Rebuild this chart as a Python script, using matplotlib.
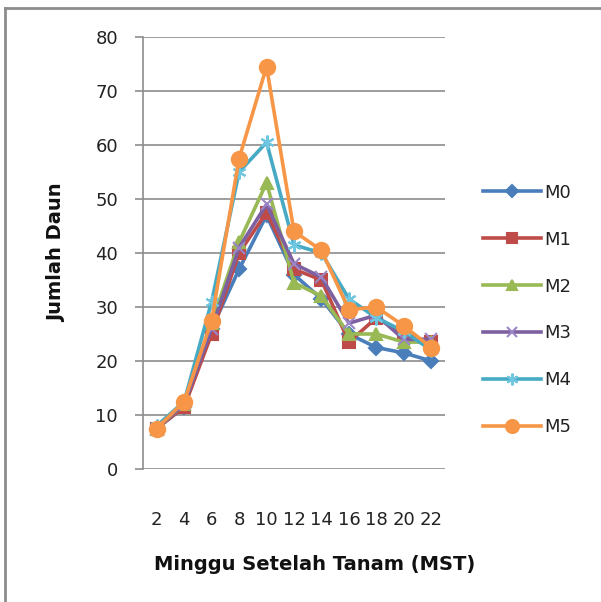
import matplotlib
matplotlib.use("Agg")
import matplotlib.pyplot as plt
from matplotlib.lines import Line2D

plt.rcParams['font.family'] = ['DejaVu Sans']

weeks = ["2", "4", "6", "8", "10", "12", "14", "16", "18", "20", "22"]
series_names = ["M0", "M1", "M2", "M3", "M4", "M5"]
m0 = [7.5, 11.5, 26, 37, 47, 36, 31.5, 25, 22.5, 21.5, 20]
m1 = [7.5, 11.5, 25, 40, 47.5, 37, 35, 23.5, 28, 25, 23.5]
m2 = [7.5, 12, 27, 42, 53, 34.5, 32, 25, 25, 23.5, 23.5]
m3 = [7.5, 12, 26, 41, 49, 38, 35.5, 27, 28.5, 24, 24]
m4 = [8, 12.5, 31, 55, 60.5, 41.5, 40, 31.5, 28, 25.5, 22]
m5 = [7.5, 12.5, 27.5, 57.5, 74.5, 44, 40.5, 29.5, 30, 26.5, 22.5]
yticks = [0, 10, 20, 30, 40, 50, 60, 70, 80]

colors = ["#4A7EBB", "#BE4B48", "#98B954", "#7D60A0", "#46AAC5", "#F79646"]
markers = ["D", "s", "^", "x", (6, 2, 0), "o"]
msizes = [7, 8, 8, 9, 10, 11]
mfc = ["#4A7EBB", "#BE4B48", "#98B954", "#9B86C6", "#6FC6E0", "#F79646"]

fig = plt.figure(figsize=(6.01, 6.02), dpi=100)
ax = fig.add_axes([143/601, 1-469/602, 302/601, 432/602])

x = list(range(len(weeks)))
for name, vals, c, mk, ms, fc in zip(series_names, [m0, m1, m2, m3, m4, m5], colors, markers, msizes, mfc):
    ax.plot(x, vals, color=c, lw=2.6, marker=mk, markersize=ms,
            markerfacecolor=fc, markeredgecolor=fc, markeredgewidth=1.5, label=name)

ax.set_xlim(-0.5, len(weeks)-0.5)
ax.set_ylim(0, 80)
ax.set_yticks(yticks)
ax.set_yticklabels([str(v) for v in yticks])
ax.set_xticks(x)
ax.set_xticklabels(weeks)
ax.grid(axis='y', color='#8C8C8C', lw=1.2)
ax.set_axisbelow(True)
for s in ['top', 'right', 'bottom']:
    ax.spines[s].set_visible(False)
ax.spines['left'].set_color('#8C8C8C')
ax.spines['left'].set_linewidth(1.2)
ax.tick_params(axis='y', length=6, color='#8C8C8C', width=1.2, pad=12, labelsize=13, labelcolor='#222222')
ax.tick_params(axis='x', length=0, pad=30, labelsize=13, labelcolor='#222222')

fig.text(57/601, 1-253/602, "Jumlah Daun", rotation=90, ha='center', va='center',
         fontsize=14, fontweight='bold', color='#111111')
fig.text(315/601, 1-565/602, "Minggu Setelah Tanam (MST)", ha='center', va='center',
         fontsize=14, fontweight='bold', color='#111111')

leg = ax.legend(loc='center left', bbox_to_anchor=(483/601, 1-310/602),
                bbox_transform=fig.transFigure, frameon=False, fontsize=13,
                handlelength=3.2, handletextpad=0.2, labelspacing=1.6,
                borderpad=0, borderaxespad=0, markerscale=0.85)
for t in leg.get_texts():
    t.set_color('#222222')

# chart frame (top and left edges)
fig.add_artist(Line2D([5/601, 5/601], [0, 1-8/602], transform=fig.transFigure, color='#8C8C8C', lw=2))
fig.add_artist(Line2D([5/601, 1], [1-8/602, 1-8/602], transform=fig.transFigure, color='#8C8C8C', lw=2))

fig.savefig("out.png", dpi=100)
